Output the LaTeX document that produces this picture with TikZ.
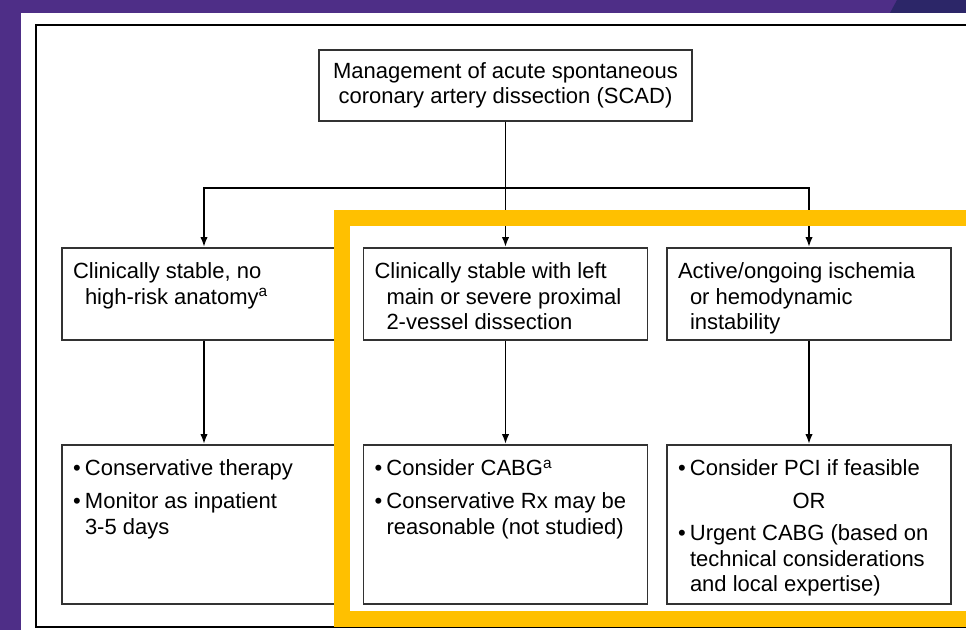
\documentclass[tikz,border=0pt]{standalone}
\usepackage{fontspec}
\setmainfont{Liberation Sans}
\usetikzlibrary{arrows.meta}
\definecolor{slidepurple}{RGB}{78,46,135}
\definecolor{slidenavy}{RGB}{44,38,104}
\definecolor{hiyellow}{RGB}{255,192,0}
\definecolor{boxgray}{RGB}{50,50,50}
\newcommand{\boxtext}[2]{\parbox[t][#1][t]{262pt}{\raggedright #2}}
\newcommand{\itm}{\makebox[12pt][l]{\textbullet}}
\newcommand{\ind}{\hspace*{12pt}}
\tikzset{
	box/.style={draw=boxgray, line width=1.5pt, inner xsep=11pt, inner ysep=15pt, anchor=north, font=\fontsize{22}{25.5}\selectfont},
	headbox/.style={draw=boxgray, line width=1.5pt, align=center, minimum width=373pt, inner ysep=12.5pt, font=\fontsize{22}{25.5}\selectfont},
	conn/.style={line width=1.8pt, -{Latex[length=10pt,width=7.5pt]}}
}

\begin{document}
\begin{tikzpicture}[x=1pt,y=-1pt]
	\useasboundingbox (0,0) rectangle (966,630);
	\clip (0,0) rectangle (966,630);
	\fill[slidepurple] (0,0) rectangle (966,630);
	\fill[slidenavy] (897,0) -- (966,0) -- (966,13) -- (890,13) -- cycle;
	\fill[white] (21,13) rectangle (966,630);
	\draw[line width=2.2pt] (36,25) rectangle (990,627);

	\node[headbox] (mgmt) at (505.5,85.5) {Management of acute spontaneous\\coronary artery dissection (SCAD)};

	\node[box] (stable) at (204,247) {\boxtext{62pt}{Clinically stable, no\\ \ind high-risk anatomy\textsuperscript{a}}};
	\node[box] (leftmain) at (505.5,247) {\boxtext{62pt}{Clinically stable with left\\ \ind main or severe proximal\\ \ind 2-vessel dissection}};
	\node[box] (ischemia) at (809,247) {\boxtext{62pt}{Active/ongoing ischemia\\ \ind or hemodynamic\\ \ind instability}};

	\node[box] (conserv) at (204,444) {\boxtext{129pt}{\itm Conservative therapy\\[7.5pt] \itm Monitor as inpatient\\ \ind 3-5 days}};
	\node[box] (cabg) at (505.5,444) {\boxtext{129pt}{\itm Consider CABG\textsuperscript{a}\\[7.5pt] \itm Conservative Rx may be\\ \ind reasonable (not studied)}};
	\node[box] (pci) at (809,444) {\boxtext{129pt}{\itm Consider PCI if feasible\\[7pt] \makebox[\linewidth]{OR}\\[7pt] \itm Urgent CABG (based on\\ \ind technical considerations\\ \ind and local expertise)}};

	\draw[conn] (mgmt.south) -- ++(0,66) -| (stable.north);
	\draw[conn] (mgmt.south) -- ++(0,66) -| (ischemia.north);
	\draw[conn] (mgmt.south) -- (leftmain.north);
	\draw[conn] (stable.south) -- (conserv.north);
	\draw[conn] (leftmain.south) -- (cabg.north);
	\draw[conn] (ischemia.south) -- (pci.north);

	\draw[hiyellow, line width=16pt] (990,218) -- (342,218) -- (342,618.5) -- (990,618.5);
\end{tikzpicture}
\end{document}
